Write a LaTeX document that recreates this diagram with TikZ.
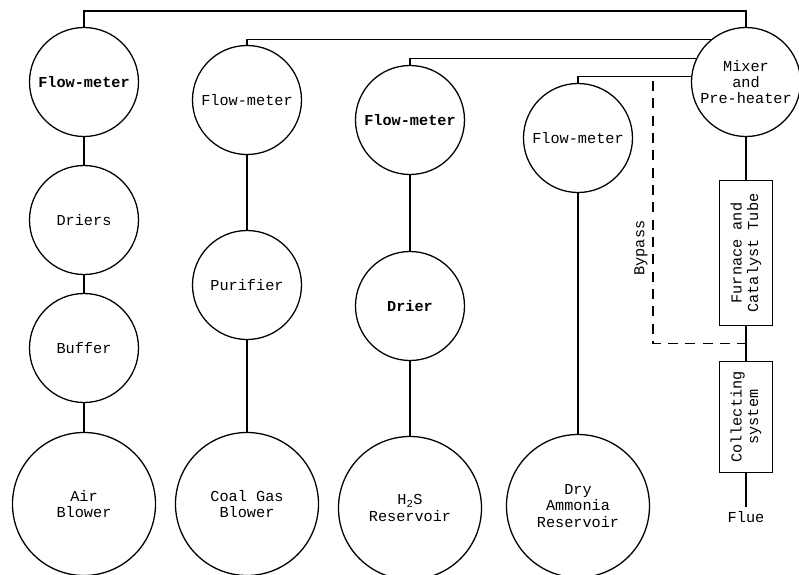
\documentclass[tikz,border=0pt]{standalone}
\usepackage{fontspec}
\setmonofont{Liberation Mono}
\usetikzlibrary{calc}

\begin{document}
\begin{tikzpicture}[x = 0.03cm, y = -0.03cm, line width = 1.1pt,
font = \ttfamily\fontsize{13}{14}\selectfont,
unit/.style = {draw, circle, minimum size = 3.27cm, inner sep = 0pt, align = center},
source/.style = {draw, circle, minimum size = 4.29cm, inner sep = 0pt, align = center},
tube/.style = {draw, rectangle, rotate = 90, inner sep = 0pt, align = center, minimum height = 1.58cm},
bypass/.style = {dashed, dash pattern = on 3mm off 2.2mm}
]
\useasboundingbox (0,0) rectangle (799,574);

% columns of gas supply
\node[unit] (fm1) at (84,82) {\textbf{Flow-meter}};
\node[unit] (driers) at (84,220) {Driers};
\node[unit] (buffer) at (84,348) {Buffer};
\node[source] (air) at (84,504) {Air\\Blower};

\node[unit] (fm2) at (247,100) {Flow-meter};
\node[unit] (purifier) at (247,285) {Purifier};
\node[source] (coal) at (247,504) {Coal Gas\\Blower};

\node[unit] (fm3) at (410,120) {\textbf{Flow-meter}};
\node[unit] (drier) at (410,306) {\textbf{Drier}};
\node[source] (hs) at (410,508) {H\textsubscript{2}S\\Reservoir};

\node[unit] (fm4) at (578,138) {Flow-meter};
\node[source] (ammonia) at (578,506) {Dry\\Ammonia\\Reservoir};

% mixer and tubes
\node[unit] (mixer) at (746,82) {Mixer\\and\\Pre-heater};
\node[tube, minimum width = 4.35cm] (furnace) at (746,253) {Furnace and\\Catalyst Tube};
\node[tube, minimum width = 3.33cm] (collect) at (746,417) {Collecting\\system};
\node (flue) at (746,517) {Flue};

\draw (fm1) -- (driers) -- (buffer) -- (air);
\draw (fm2) -- (purifier) -- (coal);
\draw (fm3) -- (drier) -- (hs);
\draw (fm4) -- (ammonia);

\draw (fm1.north) -- ++(0,-16) -| (mixer.north);
\foreach \f/\a in {fm2/129, fm3/155, fm4/174}
	\draw (\f.north) |- (mixer.\a);

\draw (mixer.south) -- (furnace.east);
\draw (furnace.west) -- (collect.east);
\draw (collect.west) -- (flue.north);

% bypass
\coordinate (bp) at (653,81);
\draw[bypass] (bp) |- ($(furnace.west)!.5!(collect.east)$);
\node[rotate = 90] (bplabel) at (641,248) {Bypass};
\end{tikzpicture}
\end{document}
